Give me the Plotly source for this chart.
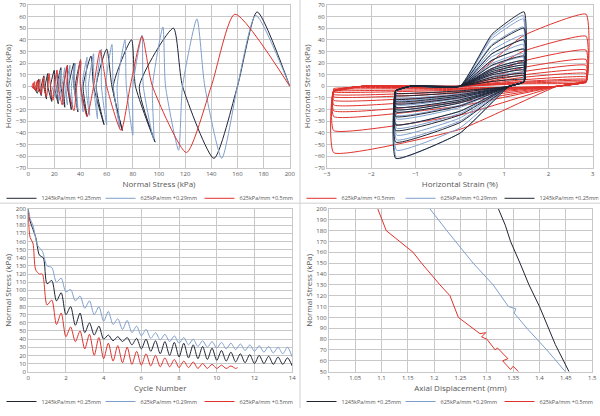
import plotly.graph_objects as go
from plotly.subplots import make_subplots

# ---------- Panel 1: normal stress vs horizontal stress (turning points) ----------
blk_top = [(175,64),(111,50),(79,40),(60,32),(48,26),(40,22),(35,20),(30,18),(25,16),(20,14),(15,11),(12,9),(8,6)]
blk_bot = [(142,-62),(97,-48),(72,-38),(58,-33),(45,-26),(38,-22),(33,-20),(28,-18),(23,-15),(18,-13),(14,-11),(10,-8),(7,-6)]
blk_z1 = [160,85,65,52,42,36,31,27,22,17,13,10,6]
blk_z2 = [118,82,64,50,40,35,30,25,20,15,12,8,4]

blu_top = [(174,61),(129,58),(103,51),(87,44),(74,40),(64,36),(56,32),(50,28),(45,25),(40,22),(36,20),(32,18),(28,16),(25,14),(22,12)]
blu_bot = [(148,-62),(115,-55),(96,-46),(80,-42),(70,-36),(60,-33),(53,-28),(47,-25),(42,-22),(38,-20),(34,-18),(30,-16),(27,-14),(24,-12),(21,-10)]
blu_z1 = [160,118,95,80,68,59,52,46,41,37,33,29,26,23,20]
blu_z2 = [135,105,88,75,65,56,50,44,40,35,31,28,24,21,18]

red_top = [(158,62),(87,43),(55,31),(40,23),(30,18),(22,14),(16,11),(12,8),(9,6),(7,5),(5,4),(4,3)]
red_bot = [(121,-57),(71,-38),(45,-26),(35,-21),(26,-16),(19,-12),(14,-9),(10,-7),(8,-5),(6,-4),(5,-3),(4,-2)]
red_z1 = [140,78,50,37,27,20,15,11,8,6,4,3]
red_z2 = [95,60,40,30,23,17,12,9,7,5,4,3]

# ---------- Panel 2: strain amplitudes ----------
blk_amp = 1.45
blu_amp = 1.43
red_amp = 2.85

# ---------- Panel 3: normal stress vs cycle ----------
blk_init_t = [0,0.1,0.25,0.4,0.6,0.8]; blk_init_s = [200,185,175,165,143,140]
blk_trough = [108,87,70,57,48,45,40,38,37,33,28,25,22,20,18,17,16,15,14,13,12,11,10,10,9,9,7]
blk_peak = [112,97,80,72,60,56,45,43,42,41,40,38,37,36,35,33,31,29,26,24,22,21,20,19,18,17]
blu_init_t = [0,0.1,0.25,0.5,0.75]; blu_init_s = [200,188,180,155,148]
blu_trough = [130,110,98,87,78,70,62,58,52,48,44,41,39,37,35,33,31,30,29,28,27,26,25,24,23,22,18]
blu_peak = [128,115,101,93,87,80,74,65,63,56,52,48,46,44,42,40,38,37,36,35,34,33,32,31,30,30]
red_init_t = [0,0.1,0.25,0.4,0.6,0.75]; red_init_s = [195,165,158,125,120,120]
red_trough = [82,58,43,37,28,20,16,13,11,9,8,7,6,6,5,5,4,4,4,4,4]
red_peak = [88,72,55,50,46,42,35,32,30,25,22,20,17,15,13,12,10,9,8,7]
red_end = (11.1, 5)

# ---------- Panel 4: axial displacement vs normal stress ----------
blk_ax = [1.456,1.43,1.40,1.38,1.363,1.345,1.335,1.322]
blk_ns = [50,75,110,130,150,170,185,200]
blu_ax = [1.449,1.414,1.376,1.360,1.352,1.355,1.341,1.312,1.274,1.224,1.192]
blu_ns = [50,70,90,100,104,108,110,130,150,180,200]
red_ax = [1.36,1.35,1.345,1.33,1.34,1.32,1.316,1.30,1.29,1.298,1.287,1.246,1.23,1.211,1.176,1.16,1.109,1.093]
red_ns = [50,55,52,60,62,72,70,80,82,86,85,100,120,130,150,160,180,200]

names = ["1245kPa/mm +0.25mm", "625kPa/mm +0.29mm", "625kPa/mm +0.5mm"]
C_BLK, C_BLU, C_RED = "#1f2533", "#7f9fcc", "#e0322c"

def zig(top, bot, z1, z2):
    xs, ys = [200], [0]
    for t, b, a, c in zip(top, bot, z1, z2):
        xs += [t[0], a, b[0], c]; ys += [t[1], 0, b[1], 0]
    return xs, ys

def loops(top, bot, amp):
    xs, ys = [0], [0]
    for t, b in zip(top, bot):
        p, m = t[1], b[1]
        xs += [0.5*amp, amp, amp, 0.77*amp, 0, -amp, -amp, -0.77*amp, 0]
        ys += [0.7*p, p, 4, 0, 0.65*m, m, -4, 0, 0]
    return xs, ys

def series(init_t, init_s, troughs, peaks, end=None):
    t, s = list(init_t), list(init_s)
    for i, v in enumerate(troughs):
        t.append(1 + 0.5*i); s.append(v)
        if i < len(peaks):
            t.append(1.25 + 0.5*i); s.append(peaks[i])
    if end:
        t.append(end[0]); s.append(end[1])
    return t, s

fig = make_subplots(rows=2, cols=2, horizontal_spacing=0.06, vertical_spacing=0.1)
lw = 1
for (top, bot, z1, z2), c, n in [((blk_top, blk_bot, blk_z1, blk_z2), C_BLK, names[0]),
                                  ((blu_top, blu_bot, blu_z1, blu_z2), C_BLU, names[1]),
                                  ((red_top, red_bot, red_z1, red_z2), C_RED, names[2])]:
    x, y = zig(top, bot, z1, z2)
    fig.add_trace(go.Scatter(x=x, y=y, mode="lines", line=dict(color=c, width=lw, shape="spline", smoothing=0.6),
                             name=n, legend="legend"), 1, 1)
for (top, bot, amp), c, n in [((red_top, red_bot, red_amp), C_RED, names[2]),
                               ((blu_top, blu_bot, blu_amp), C_BLU, names[1]),
                               ((blk_top, blk_bot, blk_amp), C_BLK, names[0])]:
    x, y = loops(top, bot, amp)
    fig.add_trace(go.Scatter(x=x, y=y, mode="lines", line=dict(color=c, width=lw, shape="spline", smoothing=0.4),
                             name=n, legend="legend2"), 1, 2)
for args, c, n in [((blk_init_t, blk_init_s, blk_trough, blk_peak), C_BLK, names[0]),
                   ((blu_init_t, blu_init_s, blu_trough, blu_peak), C_BLU, names[1]),
                   ((red_init_t, red_init_s, red_trough, red_peak, red_end), C_RED, names[2])]:
    x, y = series(*args)
    fig.add_trace(go.Scatter(x=x, y=y, mode="lines", line=dict(color=c, width=lw, shape="spline", smoothing=0.8),
                             name=n, legend="legend3"), 2, 1)
for x, y, c, n in [(blk_ax, blk_ns, C_BLK, names[0]), (blu_ax, blu_ns, C_BLU, names[1]), (red_ax, red_ns, C_RED, names[2])]:
    fig.add_trace(go.Scatter(x=x, y=y, mode="lines", line=dict(color=c, width=lw),
                             name=n, legend="legend4"), 2, 2)

tf = dict(size=6, color="#555")
ttf = dict(size=8, color="#555")
ax = dict(showgrid=True, gridcolor="#c8c8c8", gridwidth=1, zeroline=False, tickfont=tf, title_font=ttf,
          showline=True, linecolor="#c8c8c8", mirror=True, ticks="", title_standoff=2, automargin=False)
fig.update_layout(
    width=600, height=416, margin=dict(l=0, r=0, t=0, b=0),
    plot_bgcolor="white", paper_bgcolor="white", font=dict(family="Open Sans"),
    xaxis=dict(ax, domain=[0.047, 0.483], range=[0, 200], dtick=20, title_text="Normal Stress (kPa)"),
    yaxis=dict(ax, domain=[0.589, 0.988], range=[-70, 70], dtick=10, title_text="Horizontal Stress (kPa)"),
    xaxis2=dict(ax, domain=[0.545, 0.988], range=[-3, 3], dtick=1, title_text="Horizontal Strain (%)"),
    yaxis2=dict(ax, domain=[0.589, 0.988], range=[-70, 70], dtick=10, title_text="Horizontal Stress (kPa)"),
    xaxis3=dict(ax, domain=[0.047, 0.487], range=[0, 14], dtick=2, title_text="Cycle Number"),
    yaxis3=dict(ax, domain=[0.089, 0.488], range=[0, 200], dtick=10, title_text="Normal Stress (kPa)"),
    xaxis4=dict(ax, domain=[0.548, 0.987], range=[1, 1.5], dtick=0.05, title_text="Axial Displacement (mm)"),
    yaxis4=dict(ax, domain=[0.089, 0.488], range=[50, 200], dtick=10, title_text="Normal Stress (kPa)"),
)
lg = dict(orientation="h", xanchor="center", yanchor="middle", font=dict(size=5.5, color="#555"),
          bgcolor="rgba(0,0,0,0)", itemwidth=30, entrywidth=54, entrywidthmode="pixels", tracegroupgap=0)
fig.update_layout(
    legend=dict(lg, x=0.25, y=0.514),
    legend2=dict(lg, x=0.75, y=0.514),
    legend3=dict(lg, x=0.25, y=0.015),
    legend4=dict(lg, x=0.75, y=0.015),
)
for x0, y0, x1, y1 in [(0.5, 0, 0.5, 1), (0, 0.502, 1, 0.502)]:
    fig.add_shape(type="line", xref="paper", yref="paper", x0=x0, y0=y0, x1=x1, y1=y1,
                  line=dict(color="#d0d0d0", width=1))
fig.write_html("out.html", config={"displayModeBar": False},
               post_script="document.body.style.margin='0';document.body.style.overflow='hidden';")
